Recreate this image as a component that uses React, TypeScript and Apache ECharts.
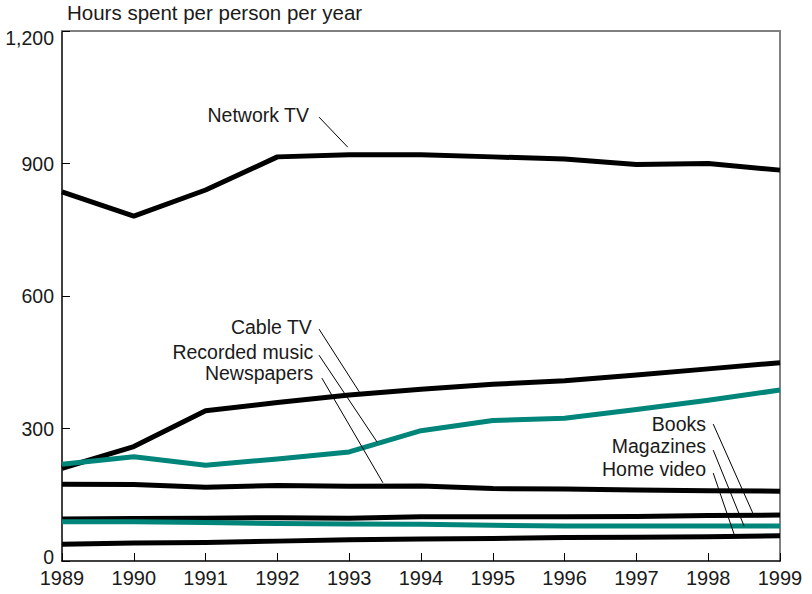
import React, { useEffect, useRef } from "react";
import * as echarts from "echarts";

const years = [1989, 1990, 1991, 1992, 1993, 1994, 1995, 1996, 1997, 1998, 1999];
const yTicks = [0, 300, 600, 900, 1200];

const networkTV = [836, 781, 840, 915, 920, 920, 915, 910, 898, 900, 885];
const cableTV = [210, 259, 340, 359, 376, 389, 400, 408, 421, 435, 449];
const recordedMusic = [219, 236, 217, 231, 247, 295, 318, 323, 343, 364, 387];
const newspapers = [174, 173, 167, 171, 169, 170, 164, 163, 161, 159, 158];
const books = [95, 96, 97, 98, 97, 100, 100, 100, 101, 103, 104];
const magazines = [89, 89, 87, 85, 84, 83, 81, 79, 79, 79, 79];
const homeVideo = [38, 41, 42, 45, 48, 50, 51, 53, 54, 55, 57];

const BLACK = "#000000";
const TEAL = "#00857a";
const TEXT = "#1a1a1a";
const FONT = '"Liberation Sans", Arial, sans-serif';
const FS = 19.5;

// annotation labels: text anchor (right edge, middle), leader start, leader end — all in data coords
const annotationNames = ["Network TV", "Cable TV", "Recorded music", "Newspapers", "Books", "Magazines", "Home video"];
const annotationText = [
  [1992.44, 1010],
  [1992.48, 530],
  [1992.5, 473],
  [1992.5, 426],
  [1997.97, 310],
  [1997.97, 260],
  [1997.97, 208],
];
const leaderStart = [
  [1992.58, 1005],
  [1992.58, 525],
  [1992.58, 466],
  [1992.62, 414],
  [1998.07, 310],
  [1998.07, 251],
  [1998.07, 199],
];
const leaderEnd = [
  [1992.98, 937],
  [1993.14, 383],
  [1993.39, 269],
  [1993.47, 177],
  [1998.62, 109],
  [1998.5, 79],
  [1998.36, 61],
];

const seriesList: [string, number[], string][] = [
  ["Network TV", networkTV, BLACK],
  ["Cable TV", cableTV, BLACK],
  ["Recorded music", recordedMusic, TEAL],
  ["Newspapers", newspapers, BLACK],
  ["Books", books, BLACK],
  ["Magazines", magazines, TEAL],
  ["Home video", homeVideo, BLACK],
];

export default function App() {
  const ref = useRef<HTMLDivElement>(null);
  useEffect(() => {
    if (!ref.current) return;
    const chart = echarts.init(ref.current, undefined, { renderer: "svg" });
    const option: any = {
      animation: false,
      backgroundColor: "#ffffff",
      textStyle: { fontFamily: FONT },
      title: {
        text: "Hours spent per person per year",
        left: 67,
        top: 2,
        padding: 0,
        textStyle: { fontSize: 20.5, fontWeight: "normal", color: TEXT, fontFamily: FONT },
      },
      grid: { left: 62, right: 32, top: 31, bottom: 33, containLabel: false },
      xAxis: [
        {
          type: "value",
          min: years[0],
          max: years[years.length - 1],
          interval: 1,
          axisLine: { onZero: false, lineStyle: { color: BLACK, width: 1.5 } },
          axisTick: { inside: true, length: 8, lineStyle: { color: BLACK, width: 1 } },
          splitLine: { show: false },
          axisLabel: {
            formatter: (v: number) => String(v),
            fontSize: 20,
            color: TEXT,
            fontFamily: FONT,
            margin: 7,
          },
        },
        {
          type: "value",
          position: "top",
          min: years[0],
          max: years[years.length - 1],
          axisLine: { show: true, onZero: false, lineStyle: { color: "#808080", width: 2 } },
          axisTick: { show: false },
          axisLabel: { show: false },
          splitLine: { show: false },
        },
      ],
      yAxis: [
        {
          type: "value",
          min: yTicks[0],
          max: yTicks[yTicks.length - 1],
          interval: 300,
          axisLine: { show: true, onZero: false, lineStyle: { color: BLACK, width: 1.5 } },
          axisTick: { show: true, inside: true, length: 8, lineStyle: { color: BLACK, width: 1 } },
          splitLine: { show: false },
          axisLabel: {
            fontSize: FS,
            color: TEXT,
            fontFamily: FONT,
            margin: 8,
            formatter: (v: number) => {
              const s = v.toLocaleString("en-US");
              if (v === 1200) return "{t|" + s + "}";
              if (v === 0) return "{b|" + s + "}";
              return s;
            },
            rich: {
              t: { fontSize: FS, color: TEXT, fontFamily: FONT, padding: [14, 0, 0, 0] },
              b: { fontSize: FS, color: TEXT, fontFamily: FONT, padding: [0, 0, 8, 0] },
            },
          },
        },
        {
          type: "value",
          position: "right",
          min: 0,
          max: 1200,
          axisLine: { show: true, onZero: false, lineStyle: { color: "#808080", width: 2 } },
          axisTick: { show: false },
          axisLabel: { show: false },
          splitLine: { show: false },
        },
      ],
      series: seriesList.map(([name, vals, color]) => ({
        name,
        type: "line",
        xAxisIndex: 0,
        yAxisIndex: 0,
        data: years.map((y, i) => [y, vals[i]]),
        symbol: "none",
        smooth: false,
        lineStyle: { color, width: 5, cap: "butt", join: "round" },
        itemStyle: { color },
        z: 3,
      })),
    };
    chart.setOption(option);

    const graphics: any[] = [];
    annotationNames.forEach((name, i) => {
      const tp = chart.convertToPixel({ gridIndex: 0 }, annotationText[i]) as number[];
      const a = chart.convertToPixel({ gridIndex: 0 }, leaderStart[i]) as number[];
      const b = chart.convertToPixel({ gridIndex: 0 }, leaderEnd[i]) as number[];
      graphics.push({
        type: "text",
        x: tp[0],
        y: tp[1],
        z: 10,
        style: {
          text: name,
          fontSize: FS,
          fontFamily: FONT,
          fill: TEXT,
          align: "right",
          verticalAlign: "middle",
        },
      });
      graphics.push({
        type: "line",
        z: 10,
        shape: { x1: a[0], y1: a[1], x2: b[0], y2: b[1] },
        style: { stroke: BLACK, lineWidth: 1 },
      });
    });
    chart.setOption({ graphic: graphics });

    return () => chart.dispose();
  }, []);
  return (
    <div
      ref={ref}
      style={{ position: "fixed", left: 0, top: 0, width: 812, height: 594 }}
    />
  );
}
